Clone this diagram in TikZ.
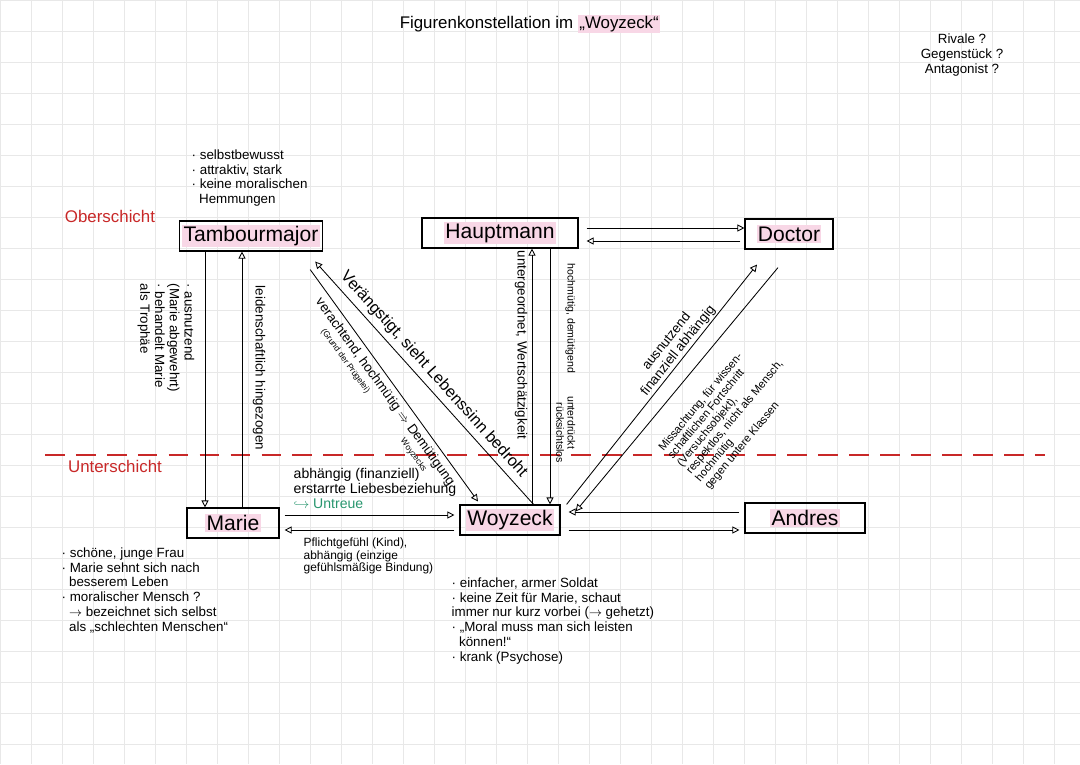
\documentclass[tikz,border=0pt]{standalone}
\usepackage{fontspec}
\setmainfont{Liberation Sans}
\usepackage{xcolor}
\usetikzlibrary{arrows.meta, positioning, calc}
\definecolor{redink}{RGB}{200,40,40}
\definecolor{greenink}{RGB}{40,150,110}
\definecolor{hlpink}{RGB}{248,215,230}
\newcommand{\hl}[1]{{\setlength{\fboxsep}{1pt}\colorbox{hlpink}{#1}}}
\tikzset{
  person/.style={draw, thick, minimum height=0.75cm, font=\fontsize{15}{16}\selectfont, inner sep=2pt},
  arrow/.style={-{Triangle[open,length=5pt,width=5pt]}, semithick},
  note/.style={font=\fontsize{9.5}{10.5}\selectfont, align=left, inner sep=1pt},
  layer/.style={font=\fontsize{12}{13}\selectfont, text=redink}
}

\begin{document}
\begin{tikzpicture}[x=0.025cm, y=-0.025cm]
    \useasboundingbox (0,0) rectangle (1080,764);
    % grid paper
    \draw[gray!18, thin, step=31*0.025cm] (0,0) grid (1080,764);

    % title and margin notes
    \node[font=\fontsize{12}{13}\selectfont] (title) at (530,24) {Figurenkonstellation im \hl{„Woyzeck“}};
    \node[note, align=center] (rivale) at (962,55) {Rivale ?\\ Gegenstück ?\\ Antagonist ?};
    \node[layer] (ober)  at (110,216) {Oberschicht};
    \node[layer] (unter) at (115,466) {Unterschicht};
    \draw[redink, thick, dash pattern=on 14pt off 8pt] (45,455) -- (1045,455);

    % characters
    \node[person, minimum width=3.2cm] (tm)   at (251,236) {\hl{Tambourmajor}};
    \node[person, minimum width=3.9cm] (haupt) at (500,233) {\hl{Hauptmann}};
    \node[person, minimum width=2.2cm] (doc)  at (789,234) {\hl{Doctor}};
    \node[person, minimum width=2.3cm] (marie) at (233,523) {\hl{Marie}};
    \node[person, minimum width=2.5cm] (woy)  at (510,520) {\hl{Woyzeck}};
    \node[person, minimum width=3.0cm] (andres) at (805,518) {\hl{Andres}};

    % Tambourmajor <-> Marie
    \draw[arrow] ($(tm.south)+(-46,0)$) -- ($(marie.north)+(-28,0)$);
    \draw[arrow] ($(marie.north)+(9,0)$) -- ($(tm.south)+(-9,0)$);
    \node[note, rotate=-90, anchor=north west] (tmmarie) at (196,282)
        {· ausnutzend\\(Marie abgewehrt)\\· behandelt Marie\\als Trophäe};
    \node[note, rotate=-90] (marietm) at (259,368) {leidenschaftlich hingezogen};

    % Tambourmajor <-> Woyzeck
    \draw[arrow] ($(woy.north east)+(-27,0)$) -- ($(tm.south east)+(-8,10)$)
        node[pos=0.5, sloped, above, font=\fontsize{11.5}{12}\selectfont] {Verängstigt, sieht Lebenssinn bedroht};
    \draw[arrow] ($(tm.south east)+(-13,18)$) -- ($(woy.north)+(-32,-3)$)
        node[pos=0.5, sloped, below, font=\fontsize{9.5}{10}\selectfont, align=center] {verachtend, hochmütig $\Rightarrow$ Demütigung\\[-1pt]{\fontsize{6}{7}\selectfont (Grund der Prügelei)\hspace{1.4cm} Woyzecks}};

    % Hauptmann <-> Woyzeck
    \draw[arrow] ($(woy.north)+(22,0)$) -- ($(haupt.south)+(32,0)$);
    \draw[arrow] ($(haupt.south)+(50,0)$) -- ($(woy.north)+(40,0)$);
    \node[note, rotate=-90] (unterg) at (521,345) {untergeordnet, Wertschätzigkeit};
    \node[note, rotate=-90, anchor=north west, font=\fontsize{7.5}{8}\selectfont] (hochm) at (577,262)
        {hochmütig, demütigend\hspace{0.5cm} unterdrückt\\\hspace{3.4cm} rücksichtslos};

    % Hauptmann <-> Doctor
    \draw[arrow] ($(haupt.east)+(8,-5)$) -- ($(doc.west)+(0,-6)$);
    \draw[arrow] ($(doc.west)+(-4,7)$) -- ($(haupt.east)+(8,8)$);

    % Woyzeck <-> Doctor
    \draw[arrow] ($(woy.north east)+(6,0)$) -- ($(doc.south)+(-32,15)$)
        node[pos=0.62, sloped, above, note, align=center] {ausnutzend\\finanziell abhängig};
    \draw[arrow] ($(doc.south)+(-11,18)$) -- ($(woy.north east)+(15,7)$)
        node[pos=0.45, sloped, below=14pt, note, align=left, font=\fontsize{8}{8.5}\selectfont] {Missachtung, für wissen-\\schaftlichen Fortschritt\\(Versuchsobjekt),\\respektlos, nicht als Mensch,\\hochmütig\\gegen untere Klassen};

    % Marie <-> Woyzeck
    \draw[arrow] ($(marie.east)+(5,-8)$) -- ($(woy.west)+(-5,-5)$);
    \draw[arrow] ($(woy.west)+(-5,10)$) -- ($(marie.east)+(5,7)$);
    \node[note, anchor=south west, font=\fontsize{10}{10.5}\selectfont] (liebe) at (292,510)
        {abhängig (finanziell)\\erstarrte Liebesbeziehung\\{\color{greenink}$\hookrightarrow$ Untreue}};
    \node[note, anchor=north west, font=\fontsize{8.5}{9}\selectfont] (pflicht) at (302,536)
        {Pflichtgefühl (Kind),\\abhängig (einzige\\gefühlsmäßige Bindung)};

    % Woyzeck <-> Andres
    \draw[arrow] ($(andres.west)+(-5,-6)$) -- ($(woy.east)+(8,-8)$);
    \draw[arrow] ($(woy.east)+(8,10)$) -- ($(andres.west)+(-5,12)$);

    % character notes
    \node[note, anchor=north west] (tmnote) at (190,148)
        {· selbstbewusst\\· attraktiv, stark\\· keine moralischen\\\ \ Hemmungen};
    \node[note, anchor=north west] (marienote) at (60,546)
        {· schöne, junge Frau\\· Marie sehnt sich nach\\\ \ besserem Leben\\· moralischer Mensch ?\\\ \ $\rightarrow$ bezeichnet sich selbst\\\ \ als „schlechten Menschen“};
    \node[note, anchor=north west] (woynote) at (450,576)
        {· einfacher, armer Soldat\\· keine Zeit für Marie, schaut\\immer nur kurz vorbei ($\rightarrow$ gehetzt)\\· „Moral muss man sich leisten\\\ \ können!“\\· krank (Psychose)};
\end{tikzpicture}
\end{document}
